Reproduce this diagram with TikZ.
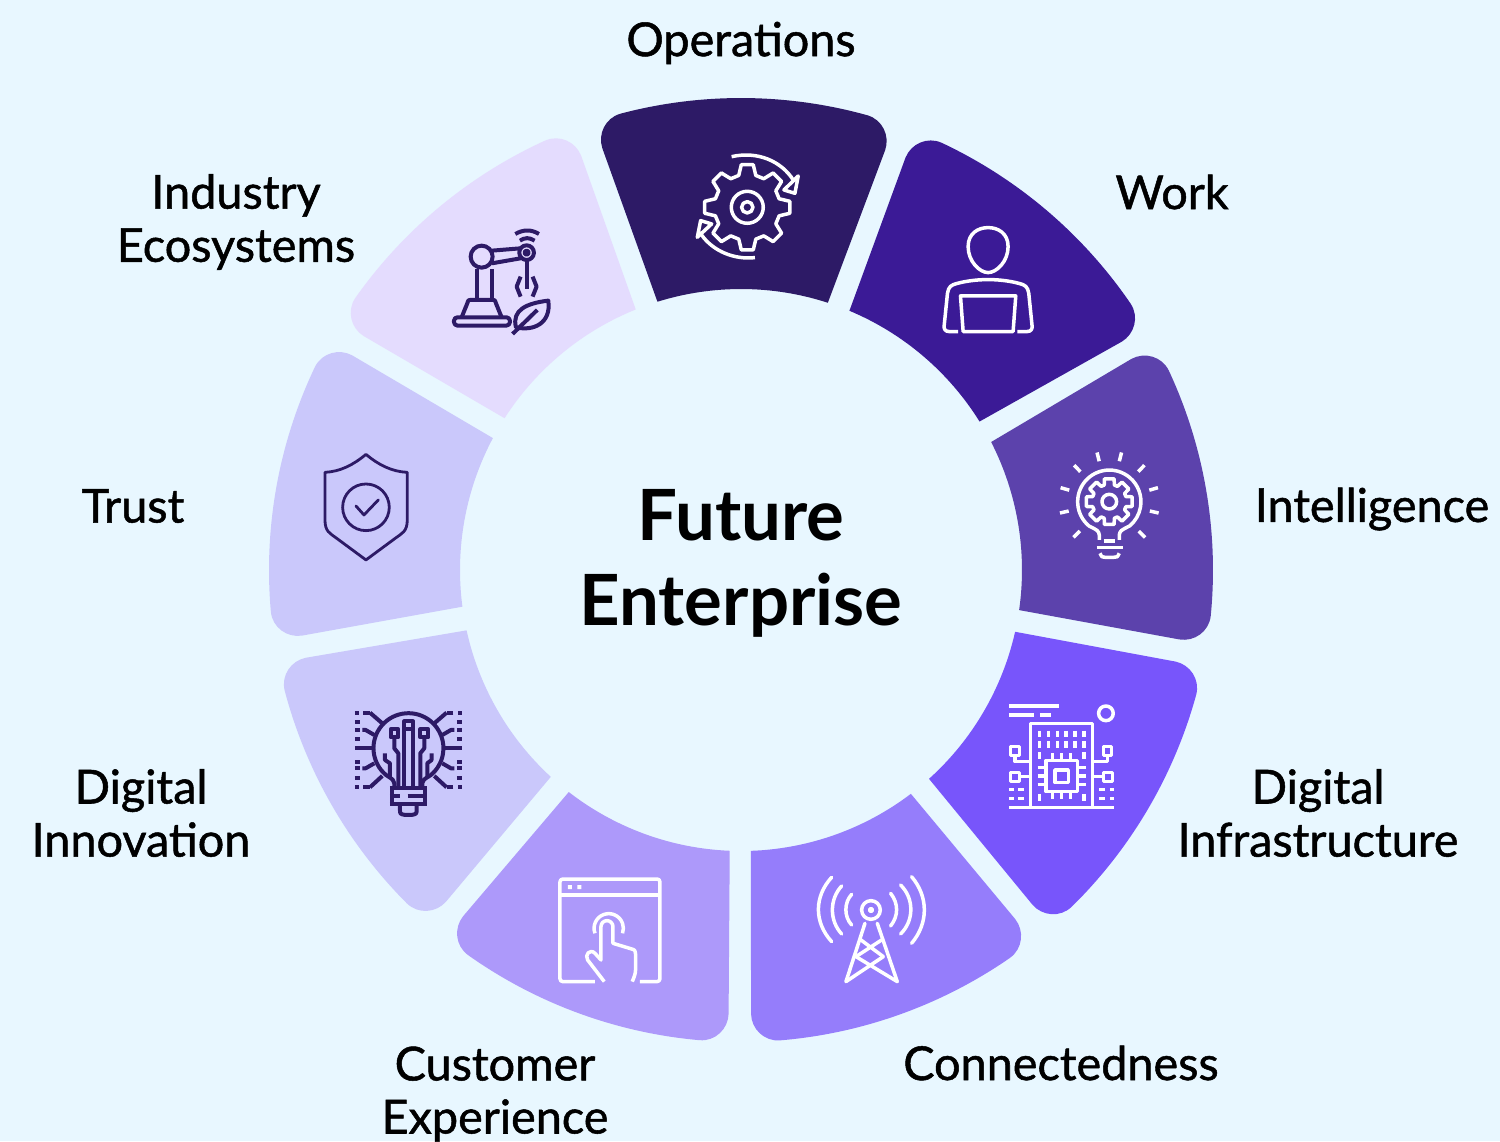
\documentclass[tikz,border=0pt]{standalone}
\usepackage{fontspec}
\setmainfont{Lato}
\newfontfamily\labelfont[FakeBold=1.1]{Lato}
\definecolor{paper}{HTML}{E8F7FF}
\definecolor{opscol}{HTML}{2D1A66}
\definecolor{workcol}{HTML}{3B1A96}
\definecolor{intelcol}{HTML}{5C42AC}
\definecolor{infracol}{HTML}{7855FB}
\definecolor{conncol}{HTML}{957DFB}
\definecolor{custcol}{HTML}{AD99FA}
\definecolor{innocol}{HTML}{CAC8FB}
\definecolor{indcol}{HTML}{E4DCFE}
\definecolor{inkcol}{HTML}{2D1A66}
% one ring piece: inner angles, outer angles, colour
\newcommand{\petal}[5]{%
	\fill[#5] (#1:281) -- (#3:444) .. controls (#3:459) and ({#3+1.5}:472) .. ({#3+3.4}:472)
		arc[start angle={#3+3.4},end angle={#4-3.4},radius=472]
		.. controls ({#4-1.5}:472) and (#4:459) .. (#4:444) -- (#2:281)
		arc[start angle=#2,end angle=#1,radius=281] -- cycle;}
% gear outline: teeth, outer radius, root radius, half widths in degrees
\newcommand{\gearpath}[5]{%
	({-#5}:#3) \foreach \k in {1,...,#1}{
		-- ({(\k-1)*360/#1-#4}:#2) -- ({(\k-1)*360/#1+#4}:#2)
		-- ({(\k-1)*360/#1+#5}:#3) -- ({\k*360/#1-#5}:#3)} -- cycle}
\tikzset{
	ringlabel/.style={font=\labelfont\fontsize{13.3}{15.1}\selectfont,align=center,text=black},
	zoomed/.style 2 args={shift={(#1-741,570-#2)},x=0.0333mm,y=-0.0333mm},
	lineicon/.style={line width=.35mm,line join=round},
	heavyicon/.style={line width=.4mm,line join=round}
}
\begin{document}
\begin{tikzpicture}[x=.01cm,y=.01cm]
	\useasboundingbox (-741,-571) rectangle (759,570);
	\fill[paper] (-741,-571) rectangle (759,570);

	% draw ring
	\petal{72}{107.3}{71.05}{108.2}{opscol}
	\petal{31.9}{67.3}{30.95}{68.25}{workcol}
	\petal{-8.2}{27.1}{-9}{28.4}{intelcol}
	\petal{-48}{-12.7}{-48.95}{-11.9}{infracol}
	\petal{-88}{-52.8}{-88.7}{-51.85}{conncol}
	\petal{232.2}{267.7}{231.25}{268.4}{custcol}
	\petal{192.4}{227.4}{191.4}{228.35}{innocol}
	\petal{152}{187.5}{151.1}{188.5}{innocol}
	\petal{112}{147.3}{111.1}{148.2}{indcol}

	% draw labels
	\node[ringlabel] (operations) at (0,527) {Operations};
	\node[ringlabel] (work) at (431,378) {Work};
	\node[ringlabel] (intelligence) at (631,61) {Intelligence};
	\node[ringlabel] (infrastructure) at (577,-243) {Digital\\Infrastructure};
	\node[ringlabel] (connectedness) at (320,-493) {Connectedness};
	\node[ringlabel] (experience) at (-246,-524) {Customer\\Experience};
	\node[ringlabel] (innovation) at (-600,-243) {Digital\\Innovation};
	\node[ringlabel] (trust) at (-608,64) {Trust};
	\node[ringlabel] (ecosystems) at (-505,348) {Industry\\Ecosystems};
	\node[font=\bfseries\fontsize{20.1}{24.2}\selectfont,align=center,text=black] (centre) at (0,7) {Future\\Enterprise};

	% draw gear icon
	\begin{scope}[zoomed={660}{130},white,lineicon]
		\draw[shift={(262,232)}] \gearpath{8}{129}{99}{8}{15};
		\draw (262,232) circle[radius=48] (262,232) circle[radius=17];
		\draw (215,80) .. controls (295,62) and (365,95) .. (400,150);
		\draw (415,138) -- (405,190) -- (372,180) -- cycle;
		\draw (285,383) .. controls (225,390) and (160,365) .. (124,314);
		\draw (112,322) -- (122,272) -- (155,282) -- cycle;
	\end{scope}

	% draw person icon
	\begin{scope}[zoomed={660}{130},white,lineicon]
		\draw (925,350) .. controls (925,310) and (955,293) .. (985,293) .. controls (1015,293) and (1045,310) .. (1045,350)
			.. controls (1045,395) and (1010,428) .. (985,428) .. controls (960,428) and (925,395) .. (925,350) -- cycle;
		\draw (895,605) -- (868,605) .. controls (856,605) and (852,597) .. (853,588) -- (863,490)
			.. controls (866,470) and (875,465) .. (890,461) .. controls (950,445) and (1020,445) .. (1080,461)
			.. controls (1095,465) and (1104,470) .. (1107,490) -- (1117,588) .. controls (1118,597) and (1114,605) .. (1102,605) -- (1073,605);
		\draw (902,498) -- (1068,498) -- (1060,605) -- (910,605) -- cycle;
	\end{scope}

	% draw robot icon
	\begin{scope}[zoomed={430}{210},inkcol,heavyicon]
		\draw[rounded corners=1pt] (72,322) rectangle (240,347);
		\draw (95,322) -- (112,280) .. controls (115,270) .. (125,270) -- (185,270) .. controls (195,270) .. (198,280) -- (215,322);
		\draw (140,178) -- (140,270) (185,178) -- (185,270);
		\draw (155,140) circle[radius=33];
		\draw (186,122) -- (272,115) (186,160) -- (272,145);
		\draw (290,128) circle[radius=22] (290,128) circle[radius=6];
		\draw (290,150) -- (290,238);
		\draw (272,200) -- (260,230) -- (272,260) (308,200) -- (320,230) -- (308,260);
		\draw (256,72) .. controls (280,58) and (305,58) .. (327,72);
		\draw (270,92) .. controls (285,82) and (298,82) .. (314,92);
		\draw (355,272) .. controls (290,280) and (245,300) .. (258,352) .. controls (310,365) and (365,340) .. (355,272) -- cycle;
		\draw (248,372) -- (322,300);
	\end{scope}

	% draw bulb with gear icon
	\begin{scope}[zoomed={1040}{440},white,lineicon]
		\draw (178,300) -- (178,285) .. controls (175,272) .. (147,258) arc[start angle=130,end angle=410,radius=95] .. controls (241,272) .. (238,285) -- (238,300);
		\draw[shift={(208,185)}] \gearpath{8}{70}{52}{12}{17};
		\draw (208,185) circle[radius=22];
		\draw (192,303) -- (225,303) (170,323) -- (248,323);
		\draw (180,340) .. controls (186,352) .. (195,352) -- (222,352) .. controls (232,352) .. (238,340);
		\foreach \a in {-76,-46,-16,13,45,135,167,196,226,256}
			\draw (208,185) ++(\a:125) -- ++(\a:27);
	\end{scope}

	% draw chip icon
	\begin{scope}[zoomed={990}{690},white,lineicon]
		\draw (57,48) -- (208,48) (57,75) -- (133,75) (150,75) -- (182,75);
		\draw (348,70) circle[radius=22];
		\draw (57,352) -- (373,352);
		\draw (122,352) -- (122,100) -- (308,100) -- (308,352);
		\foreach \xc in {148,175,202,228,255,282}
			\draw (\xc,122) -- (\xc,142) (\xc,153) -- (\xc,173);
		\draw (148,187) -- (148,207) (282,187) -- (282,207) (148,312) -- (148,332) (282,312) -- (282,332);
		\draw (168,212) rectangle (262,305) (195,240) rectangle (235,278);
		\foreach \xc in {188,215,242}
			\draw (\xc,190) -- (\xc,212) (\xc,305) -- (\xc,328);
		\foreach \yc in {233,258,283}
			\draw (143,\yc) -- (168,\yc) (262,\yc) -- (287,\yc);
		\draw (62,170) rectangle (88,197) (75,197) -- (75,215) -- (122,215);
		\draw (62,247) rectangle (88,275) (88,260) -- (122,260);
		\draw (340,170) rectangle (365,197) (352,197) -- (352,215) -- (308,215);
		\draw (340,247) rectangle (368,275) (340,260) -- (308,260);
		\draw (57,298) -- (72,298) (85,298) -- (102,298) (57,325) -- (72,325) (85,325) -- (102,325);
		\draw (328,298) -- (345,298) (360,298) -- (372,298) (328,325) -- (345,325) (360,325) -- (372,325);
	\end{scope}

	% draw tower icon
	\begin{scope}[zoomed={800}{860},white,lineicon,line cap=round]
		\draw (213,150) circle[radius=28] (213,150) circle[radius=5];
		\draw (155,103) .. controls (132,128) and (132,170) .. (155,195);
		\draw (125,78) .. controls (88,118) and (88,182) .. (125,222);
		\draw (95,52) .. controls (42,110) and (42,187) .. (95,245);
		\draw (272,100) .. controls (296,130) and (296,168) .. (272,198);
		\draw (302,75) .. controls (343,115) and (343,182) .. (302,222);
		\draw (335,50) .. controls (386,110) and (386,190) .. (335,250);
		\draw (195,190) -- (138,365) (232,190) -- (292,365);
		\draw (183,240) -- (250,290) (245,240) -- (168,290);
		\draw (168,290) -- (292,365) (250,290) -- (138,365);
	\end{scope}

	% draw browser icon
	\begin{scope}[zoomed={545}{865},white,lineicon]
		\draw[rounded corners=.8pt] (150,350) -- (45,350) -- (45,42) -- (345,42) -- (345,350) -- (285,350);
		\draw (45,90) -- (345,90);
		\fill (69,60) rectangle (81,72) (97,60) rectangle (109,72);
		\draw (150,205) arc[start angle=160,end angle=380,radius=44];
		\draw (178,350) -- (128,285) .. controls (118,270) and (135,250) .. (150,265) -- (168,285) -- (168,185)
			arc[start angle=180,end angle=360,radius=18] -- (204,235) -- (260,252) .. controls (270,255) .. (272,268) -- (272,300) .. controls (272,325) .. (262,350);
	\end{scope}

	% draw circuit bulb icon
	\begin{scope}[zoomed={345}{700},inkcol,heavyicon]
		\draw (148,265) -- (148,250) .. controls (146,240) .. (123,225) arc[start angle=130,end angle=410,radius=105] .. controls (234,240) .. (232,250) -- (232,265);
		\draw (135,265) -- (245,265) (188,289) -- (245,289) (135,289) -- (165,289) (135,313) -- (245,313);
		\draw (140,265) -- (140,313) (240,265) -- (240,313);
		\draw (165,315) -- (165,328) .. controls (165,342) .. (180,345) -- (200,345) .. controls (215,342) .. (215,328) -- (215,315);
		\draw (178,265) -- (178,88) (205,265) -- (205,88);
		\draw (178,64) rectangle (204,88);
		\draw (137,88) rectangle (160,112) (226,88) rectangle (250,112);
		\draw (148,112) -- (148,145) -- (160,160) -- (160,265);
		\draw (238,112) -- (238,145) -- (226,160) -- (226,265);
		\draw (120,160) -- (120,180) -- (135,190) -- (135,235);
		\draw (260,160) -- (260,180) -- (247,190) -- (247,235);
		\foreach \xa/\xb/\xc/\xd in {30/42/55/75,350/338/325/305}{
			\draw (\xa,38) -- (\xb,38) (\xc,38) -- (\xd,38);
			\draw (\xa,262) -- (\xb,262) (\xc,262) -- (\xd,262);
		}
		\draw (30,145) -- (85,145) (350,145) -- (295,145);
		\draw (75,38) -- (112,70) (305,38) -- (268,70) (75,262) -- (112,228) (305,262) -- (268,228);
		\draw (52,90) -- (62,90) -- (88,105) (328,90) -- (318,90) -- (292,105);
		\draw (52,205) -- (62,205) -- (88,190) (328,205) -- (318,205) -- (292,190);
		\foreach \yc in {65,90,118,185,205,235}
			\draw (30,\yc) -- (44,\yc) (336,\yc) -- (350,\yc);
	\end{scope}

	% draw shield icon
	\begin{scope}[zoomed={310}{445},inkcol,line width=.28mm,line join=round]
		\draw (168,28) .. controls (130,60) and (90,80) .. (45,82) -- (45,225) .. controls (45,260) and (60,265) .. (80,280) -- (168,345)
			-- (256,280) .. controls (276,265) and (292,260) .. (292,225) -- (292,82) .. controls (246,80) and (206,60) .. (168,28) -- cycle;
		\draw (168,187) circle[radius=70];
		\draw[line cap=round] (138,183) -- (162,210) -- (205,165);
	\end{scope}
\end{tikzpicture}
\end{document}
